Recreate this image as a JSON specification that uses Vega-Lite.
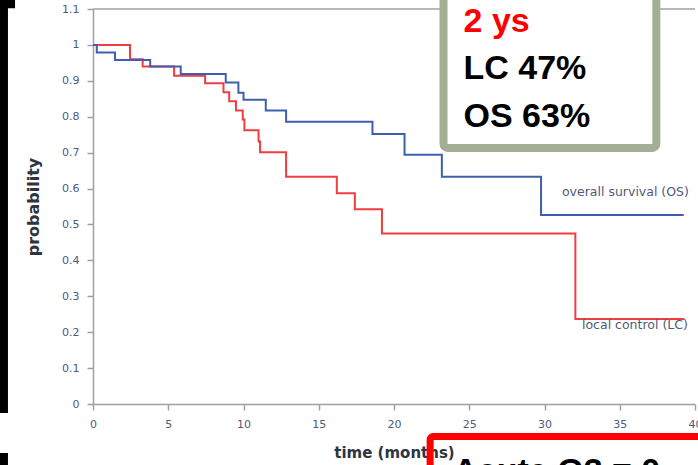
{
  "$schema": "https://vega.github.io/schema/vega-lite/v6.json",
  "width": 602,
  "height": 395,
  "autosize": {"type": "none"},
  "padding": {"left": 93, "top": 9, "right": 3, "bottom": 61},
  "background": "white",
  "config": {"view": {"stroke": null}},
  "datasets": {
    "frame": [{"t": 0, "t2": 40, "p": 1.1}],
    "lc": [
      {"t": 0, "p": 1},
      {"t": 2.46, "p": 0.96},
      {"t": 3.3, "p": 0.94},
      {"t": 5.39, "p": 0.914},
      {"t": 7.45, "p": 0.893},
      {"t": 8.67, "p": 0.868},
      {"t": 9.05, "p": 0.843},
      {"t": 9.5, "p": 0.817},
      {"t": 9.95, "p": 0.792},
      {"t": 10.06, "p": 0.762},
      {"t": 11.0, "p": 0.731},
      {"t": 11.1, "p": 0.701},
      {"t": 12.83, "p": 0.633},
      {"t": 16.2, "p": 0.587},
      {"t": 17.4, "p": 0.542},
      {"t": 19.2, "p": 0.475},
      {"t": 32.05, "p": 0.237},
      {"t": 39.3, "p": 0.237}
    ],
    "os": [
      {"t": 0, "p": 1},
      {"t": 0.25, "p": 0.979},
      {"t": 1.46, "p": 0.958},
      {"t": 3.8, "p": 0.94},
      {"t": 5.83, "p": 0.919},
      {"t": 8.82, "p": 0.895},
      {"t": 9.66, "p": 0.867},
      {"t": 10.0, "p": 0.847},
      {"t": 11.48, "p": 0.817},
      {"t": 12.83, "p": 0.786},
      {"t": 18.57, "p": 0.752},
      {"t": 20.7, "p": 0.694},
      {"t": 23.18, "p": 0.633},
      {"t": 29.77, "p": 0.526},
      {"t": 39.25, "p": 0.526}
    ],
    "curveLabels": [
      {"t": 31.16, "p": 0.591, "label": "overall survival (OS)"},
      {"t": 32.49, "p": 0.22, "label": "local control (LC)"}
    ],
    "summaryBox": [{"t": 23.29, "t2": 37.43, "p": 0.713, "p2": 1.25}],
    "summaryTitle": [{"t": 24.62, "p": 1.037, "label": "2 ys"}],
    "summaryLines": [
      {"t": 24.62, "p": 0.905, "label": "LC 47%"},
      {"t": 24.62, "p": 0.771, "label": "OS 63%"}
    ],
    "toxBox": [{"t": 22.4, "t2": 46, "p": -0.0905, "p2": -0.4}],
    "toxText": [{"t": 23.94, "p": -0.218, "label": "Acute G3 = 0"}],
    "edges": [
      {"t": -7, "t2": -5.65, "p": 1.2, "p2": -0.025},
      {"t": -7, "t2": -5.65, "p": -0.1365, "p2": -0.4},
      {"t": -7, "t2": -5.18, "p": 1.2, "p2": 1.102}
    ]
  },
  "encoding": {
    "x": {
      "field": "t",
      "type": "quantitative",
      "scale": {"domain": [0, 40], "nice": false, "zero": false},
      "axis": {
        "title": "time (months)",
        "values": [0, 5, 10, 15, 20, 25, 30, 35, 40],
        "labelFlush": false,
        "labelOverlap": false,
        "grid": false,
        "labelFont": "DejaVu Sans",
        "labelFontSize": 11,
        "labelColor": "#4f5b7c",
        "labelPadding": 8,
        "tickSize": 6,
        "tickColor": "#a0a0a0",
        "tickWidth": 1.5,
        "domainColor": "#a0a0a0",
        "domainWidth": 1.5,
        "titleFont": "DejaVu Sans",
        "titleFontSize": 15,
        "titleFontWeight": "bold",
        "titleColor": "#2e3440",
        "titlePadding": 16
      }
    },
    "y": {
      "field": "p",
      "type": "quantitative",
      "scale": {"domain": [0, 1.1], "nice": false, "zero": false},
      "axis": {
        "title": "probability",
        "values": [0, 0.1, 0.2, 0.3, 0.4, 0.5, 0.6, 0.7, 0.8, 0.9, 1, 1.1],
        "format": "~g",
        "grid": false,
        "labelFont": "DejaVu Sans",
        "labelFontSize": 11,
        "labelColor": "#4f5b7c",
        "labelPadding": 8,
        "tickSize": 6,
        "tickColor": "#a0a0a0",
        "tickWidth": 1.5,
        "domainColor": "#a0a0a0",
        "domainWidth": 1.5,
        "titleFont": "DejaVu Sans",
        "titleFontSize": 16,
        "titleFontWeight": "bold",
        "titleColor": "#2e3440",
        "titlePadding": 20
      }
    }
  },
  "layer": [
    {
      "data": {"name": "frame"},
      "mark": {"type": "rule", "color": "#a0a0a0", "strokeWidth": 1.5},
      "encoding": {"x2": {"field": "t2"}}
    },
    {
      "data": {"name": "lc"},
      "mark": {"type": "line", "interpolate": "step-after", "color": "#ef3e42", "strokeWidth": 2}
    },
    {
      "data": {"name": "os"},
      "mark": {"type": "line", "interpolate": "step-after", "color": "#3e5fae", "strokeWidth": 2}
    },
    {
      "data": {"name": "curveLabels"},
      "mark": {"type": "text", "align": "left", "baseline": "middle", "font": "DejaVu Sans", "fontSize": 12.5, "color": "#505a78"},
      "encoding": {"text": {"field": "label"}}
    },
    {
      "data": {"name": "summaryBox"},
      "mark": {"type": "rect", "fill": "white", "stroke": "#a4ae95", "strokeWidth": 8, "cornerRadius": 4, "strokeJoin": "round"},
      "encoding": {"x2": {"field": "t2"}, "y2": {"field": "p2"}}
    },
    {
      "data": {"name": "summaryTitle"},
      "mark": {"type": "text", "align": "left", "baseline": "alphabetic", "font": "Liberation Sans", "fontWeight": "bold", "fontSize": 34, "color": "#ff0000"},
      "encoding": {"text": {"field": "label"}}
    },
    {
      "data": {"name": "summaryLines"},
      "mark": {"type": "text", "align": "left", "baseline": "alphabetic", "font": "Liberation Sans", "fontWeight": "bold", "fontSize": 34, "color": "#000000"},
      "encoding": {"text": {"field": "label"}}
    },
    {
      "data": {"name": "toxBox"},
      "mark": {"type": "rect", "filled": false, "color": "#ff0000", "strokeWidth": 7, "cornerRadius": 3},
      "encoding": {"x2": {"field": "t2"}, "y2": {"field": "p2"}}
    },
    {
      "data": {"name": "toxText"},
      "mark": {"type": "text", "align": "left", "baseline": "alphabetic", "font": "Liberation Sans", "fontWeight": "bold", "fontSize": 34, "color": "#000000"},
      "encoding": {"text": {"field": "label"}}
    },
    {
      "data": {"name": "edges"},
      "mark": {"type": "rect", "color": "#000000"},
      "encoding": {"x2": {"field": "t2"}, "y2": {"field": "p2"}}
    }
  ]
}
